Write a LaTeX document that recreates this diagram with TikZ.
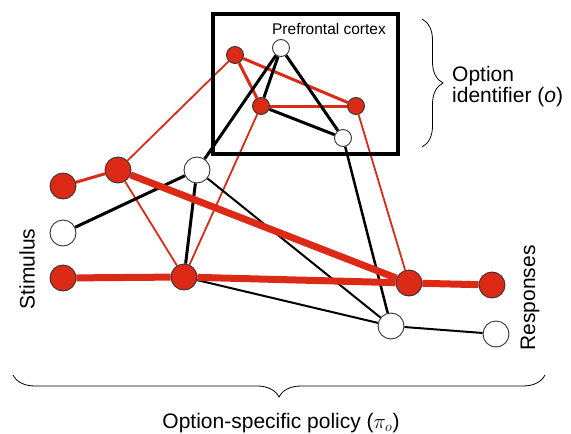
\documentclass[tikz,border=0pt]{standalone}
\usepackage{fontspec}
\setmainfont{Liberation Sans}
\usepackage{tikz}
\usetikzlibrary{decorations.pathreplacing, backgrounds}
\definecolor{actred}{RGB}{221,42,22}
\tikzset{
    unit/.style={circle, draw=black!80, line width=0.9pt, inner sep=0pt, minimum size=26pt},
    active/.style={unit, fill=actred},
    silent/.style={unit, fill=white},
    pfcunit/.style={minimum size=17pt},
    cortexbox/.style={rectangle, draw, line width=4pt, minimum width=185pt, minimum height=140pt},
    biglabel/.style={font=\fontsize{21}{21}\selectfont, inner sep=0pt},
    smalllabel/.style={font=\fontsize{15.5}{15.5}\selectfont, inner sep=0pt},
    strongred/.style={actred, line width=7pt},
    midred/.style={actred, line width=3pt},
    thinred/.style={actred, line width=1.8pt},
    midblack/.style={black, line width=3pt},
    thinblack/.style={black, line width=2pt},
    bracket/.style={decorate, decoration={brace, amplitude=#1}, line width=0.8pt},
}

\begin{document}
\begin{tikzpicture}[x=1pt, y=-1pt]
\useasboundingbox (0,0) rectangle (571,434);

% Prefrontal cortex
\node[cortexbox] (cortex) at (305.5,84) {};
\node[smalllabel] (cortexlabel) at (329,29) {Prefrontal cortex};
\node[active, pfcunit] (pf1) at (235,55) {};
\node[silent, pfcunit] (pf2) at (281,48) {};
\node[active, pfcunit] (pf3) at (261,106) {};
\node[active, pfcunit] (pf4) at (356,106) {};
\node[silent, pfcunit] (pf5) at (343,138) {};

% Stimulus units
\node[active] (stim1) at (63,186) {};
\node[silent] (stim2) at (63,233) {};
\node[active] (stim3) at (63,278) {};

% Hidden units
\node[active] (hid1) at (118,170) {};
\node[silent] (hid2) at (197,170) {};
\node[active] (hid3) at (184,277) {};

% Response units
\node[active] (resp1) at (409,283) {};
\node[silent] (resp2) at (391,326) {};
\node[active] (resp3) at (492,285) {};
\node[silent] (resp4) at (496,334) {};

% Connections
\begin{scope}[on background layer]
\draw[thinred] (hid1) -- (pf1);
\draw[thinred] (hid1) -- (hid3);
\draw[thinred] (hid3) -- (pf3);
\draw[thinred] (pf4) -- (resp1);
\draw[midred] (pf3) -- (pf4);
\draw[midred] (pf1) -- (pf3);
\draw[midred] (pf1) -- (pf4);
\draw[midred] (stim1) -- (hid1);
\draw[thinblack] (hid2) -- (resp2);
\draw[thinblack] (hid3) -- (resp2);
\draw[thinblack] (resp2) -- (resp4);
\draw[midblack] (stim2) -- (hid2);
\draw[midblack] (hid2) -- (hid3);
\draw[midblack] (hid2) -- (pf2);
\draw[midblack] (pf2) -- (pf3);
\draw[midblack] (pf2) -- (pf5);
\draw[midblack] (pf3) -- (pf5);
\draw[midblack, line width=2.5pt] (pf5) -- (resp2);
\draw[strongred] (stim3) -- (hid3);
\draw[strongred] (hid3) -- (resp1);
\draw[strongred] (hid1) -- (resp1);
\draw[strongred] (resp1) -- (resp3);
\end{scope}

% Labels and braces
\node[biglabel, rotate=90] (stimlabel) at (27,269) {Stimulus};
\node[biglabel, rotate=90] (resplabel) at (530,298) {Responses};
\coordinate (idtop) at (422,19);
\coordinate (idbot) at (422,147);
\draw[bracket=21pt] (idtop) -- (idbot);
\node[biglabel, align=left, anchor=west] (idlabel) at (452,87) {Option\\identifier (\textit{o})};
\coordinate (polright) at (545,375);
\coordinate (polleft) at (13,375);
\draw[bracket=22pt] (polright) -- (polleft);
\node[biglabel, anchor=base] (pollabel) at (281,428) {Option-specific policy ($\pi_o$)};

\end{tikzpicture}
\end{document}
